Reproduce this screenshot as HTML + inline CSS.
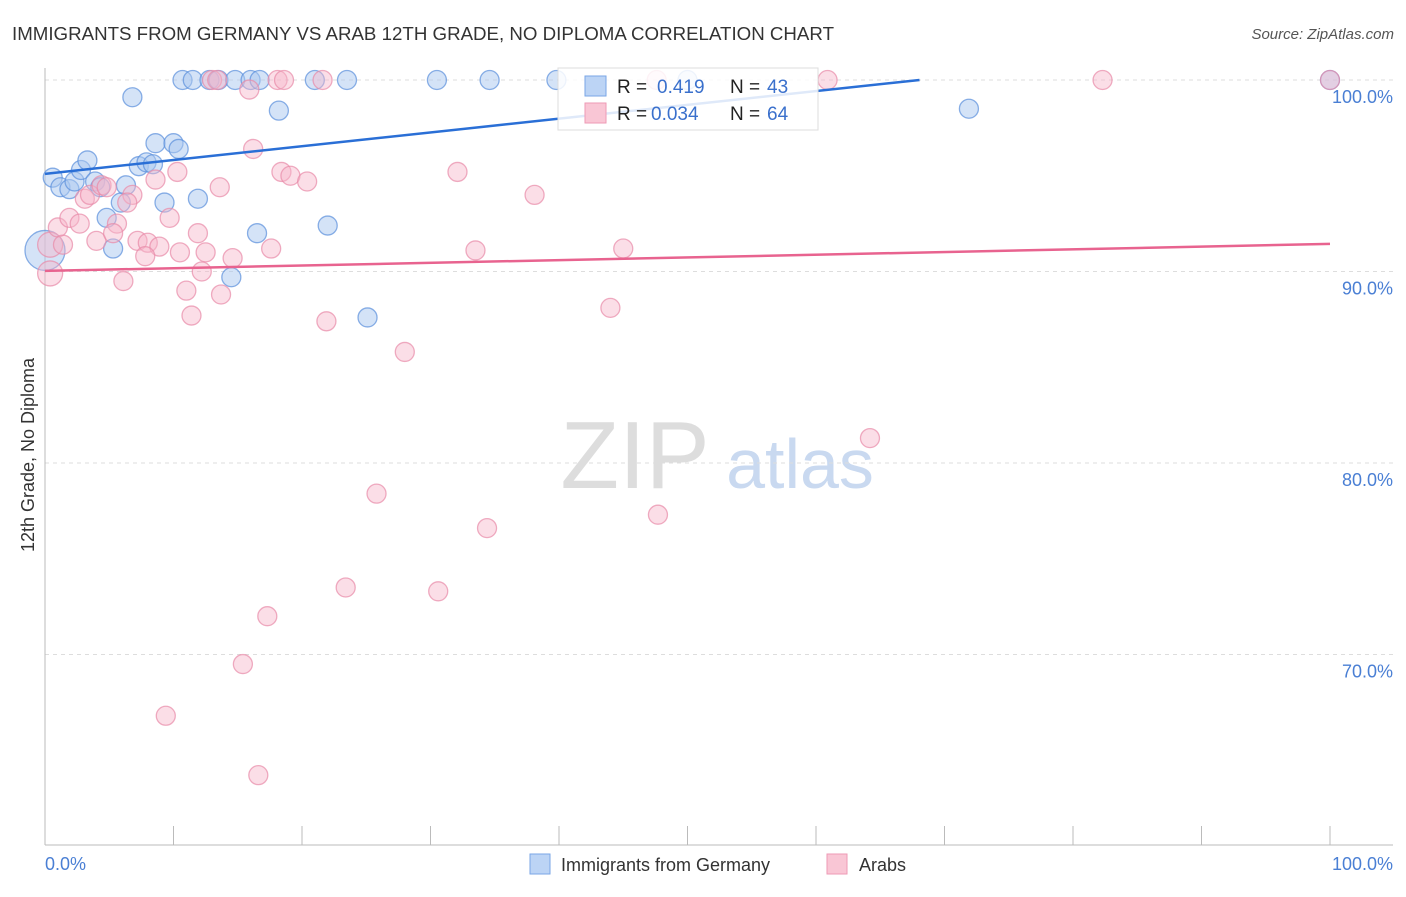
<!DOCTYPE html>
<html><head><meta charset="utf-8"><style>
body{margin:0;background:#fff;font-family:"Liberation Sans",sans-serif}
svg text{font-family:"Liberation Sans",sans-serif}
</style></head><body>
<svg id="chart" width="1406" height="892" viewBox="0 0 1406 892" xmlns="http://www.w3.org/2000/svg">
<text x="12" y="40" font-size="18" fill="#333" textLength="822" lengthAdjust="spacingAndGlyphs">IMMIGRANTS FROM GERMANY VS ARAB 12TH GRADE, NO DIPLOMA CORRELATION CHART</text>
<text x="1394" y="39" font-size="15" fill="#555" font-style="italic" text-anchor="end">Source: ZipAtlas.com</text>
<g>
<text x="635" y="488" font-size="96" fill="#ddd" font-family="Liberation Serif" text-anchor="middle">ZIP</text>
<text x="800" y="488" font-size="70" fill="#c9d9f0" text-anchor="middle">atlas</text>
</g>
<g id="grid"></g>
<g id="axes"></g>
<g id="pts"></g>
<g id="trends"></g>
<text transform="translate(34,455) rotate(-90)" font-size="18" fill="#333" text-anchor="middle">12th Grade, No Diploma</text>
<text x="45" y="870" font-size="18" fill="#4a7fd4">0.0%</text>
<text x="1393" y="870" font-size="18" fill="#4a7fd4" text-anchor="end">100.0%</text>
<g>
<rect x="558" y="68" width="260" height="62" fill="#fff" fill-opacity="0.85" stroke="#ddd"/>
<rect x="585" y="76" width="21" height="20" fill="#bcd4f5" stroke="#7aa6e6"/>
<rect x="585" y="103" width="21" height="20" fill="#f9c6d5" stroke="#ee9ab5"/>
<text x="617" y="93" font-size="19" fill="#222">R = </text><text x="657" y="93" font-size="19" fill="#3a70cc">0.419</text>
<text x="730" y="93" font-size="19" fill="#222">N = </text><text x="767" y="93" font-size="19" fill="#3a70cc">43</text>
<text x="617" y="120" font-size="19" fill="#222">R = </text><text x="651" y="120" font-size="19" fill="#3a70cc">0.034</text>
<text x="730" y="120" font-size="19" fill="#222">N = </text><text x="767" y="120" font-size="19" fill="#3a70cc">64</text>
</g>
<g>
<rect x="530" y="854" width="20" height="20" fill="#bcd4f5" stroke="#7aa6e6"/>
<text x="561" y="871" font-size="18" fill="#333">Immigrants from Germany</text>
<rect x="827" y="854" width="20" height="20" fill="#f9c6d5" stroke="#ee9ab5"/>
<text x="859" y="871" font-size="18" fill="#333">Arabs</text>
</g>
</svg>
<script>
const yTicks=[100,90,80,70];
const yTickLabels=["100.0%","90.0%","80.0%","70.0%"];
const xTicks=[0,10,20,30,40,50,60,70,80,90,100];
const blueX=[10.7,11.5,12.8,13.5,14.8,16.0,16.7,21.0,23.5,30.5,34.6,39.8,50.0,100,6.8,18.2,71.9,8.6,10.0,10.4,0.6,1.2,1.9,2.3,2.8,3.3,3.9,4.3,6.3,5.9,4.8,5.3,7.3,7.9,8.4,9.3,11.9,16.5,22.0,14.5,25.1,0];
const blueY=[100,100,100,100,100,100,100,100,100,100,100,100,100,100,99.1,98.4,98.5,96.7,96.7,96.4,94.9,94.4,94.3,94.7,95.3,95.8,94.7,94.4,94.5,93.6,92.8,91.2,95.5,95.7,95.6,93.6,93.8,92.0,92.4,89.7,87.6,91.1];
const blueR=[9.5,9.5,9.5,9.5,9.5,9.5,9.5,9.5,9.5,9.5,9.5,9.5,9.5,9.5,9.5,9.5,9.5,9.5,9.5,9.5,9.5,9.5,9.5,9.5,9.5,9.5,9.5,9.5,9.5,9.5,9.5,9.5,9.5,9.5,9.5,9.5,9.5,9.5,9.5,9.5,9.5,20];
const pinkX=[0.4,0.4,1.0,1.9,2.7,1.4,4.0,3.1,3.5,4.4,4.8,6.8,6.4,5.6,5.3,7.2,8.0,8.9,7.8,6.1,9.7,10.3,8.6,10.5,11.9,12.5,12.2,14.6,11.0,13.7,11.4,17.6,13.6,16.2,18.4,19.1,20.4,15.9,13.0,13.4,18.1,18.6,21.6,21.9,47.6,60.9,82.3,100,32.1,38.1,33.5,45.0,44.0,28.0,64.2,25.8,34.4,47.7,23.4,30.6,17.3,15.4,9.4,16.6];
const pinkY=[89.9,91.4,92.3,92.8,92.5,91.4,91.6,93.8,94.0,94.5,94.4,94.0,93.6,92.5,92.0,91.6,91.5,91.3,90.8,89.5,92.8,95.2,94.8,91.0,92.0,91.0,90.0,90.7,89.0,88.8,87.7,91.2,94.4,96.4,95.2,95.0,94.7,99.5,100,100,100,100,100,87.4,100,100,100,100,95.2,94.0,91.1,91.2,88.1,85.8,81.3,78.4,76.6,77.3,73.5,73.3,72.0,69.5,66.8,63.7];
const blueTrend=[95.1,0.072];
const pinkTrend=[90.03,0.0141];
const NS="http://www.w3.org/2000/svg";
const X=v=>45+v*12.85, Y=v=>80+(100-v)*19.15;
function mk(tag,attrs,parent){const e=document.createElementNS(NS,tag);for(const k in attrs)e.setAttribute(k,attrs[k]);parent.appendChild(e);return e;}
const grid=document.getElementById('grid'),axes=document.getElementById('axes'),pts=document.getElementById('pts'),tr=document.getElementById('trends');
yTicks.forEach((t,i)=>{
 const l=mk('line',{x1:45,x2:1393,y1:Y(t),y2:Y(t),stroke:'#ddd','stroke-dasharray':'4,4'},grid);
 
 
 const tx=mk('text',{x:1393,y:Y(t)+23,'font-size':18,fill:'#4a7fd4','text-anchor':'end'},axes);
 tx.textContent=yTickLabels[i];
 
 
});
const ax=mk('line',{x1:45,x2:1393,y1:845,y2:845,stroke:'#bbb'},axes);


const ay=mk('line',{x1:45,x2:45,y1:68,y2:845,stroke:'#bbb'},axes);


xTicks.forEach(t=>{
 const l=mk('line',{x1:X(t),x2:X(t),y1:826,y2:845,stroke:'#bbb'},axes);
 
 
});
blueX.forEach((v,i)=>{
 const c=mk('circle',{cx:X(v),cy:Y(blueY[i]),r:blueR[i],fill:'#a9c8f0','fill-opacity':0.5,stroke:'#5a8fdc','stroke-opacity':0.7,'stroke-width':1.3},pts);
 
 
});
pinkX.forEach((v,i)=>{
 const r=(i<2)?12.5:9.5;
 const c=mk('circle',{cx:X(v),cy:Y(pinkY[i]),r:r,fill:'#f7b6ca','fill-opacity':0.45,stroke:'#e88aa8','stroke-opacity':0.7,'stroke-width':1.3},pts);
 
 
});
const bxEnd=Math.min(100,(100-blueTrend[0])/blueTrend[1]);
const bl=mk('line',{x1:X(0),y1:Y(blueTrend[0]),x2:X(bxEnd),y2:Y(blueTrend[0]+blueTrend[1]*bxEnd),stroke:'#2a6fd6','stroke-width':2.5},tr);


const pl=mk('line',{x1:X(0),y1:Y(pinkTrend[0]),x2:X(100),y2:Y(pinkTrend[0]+pinkTrend[1]*100),stroke:'#e8638f','stroke-width':2.5},tr);


</script>
</body></html>
